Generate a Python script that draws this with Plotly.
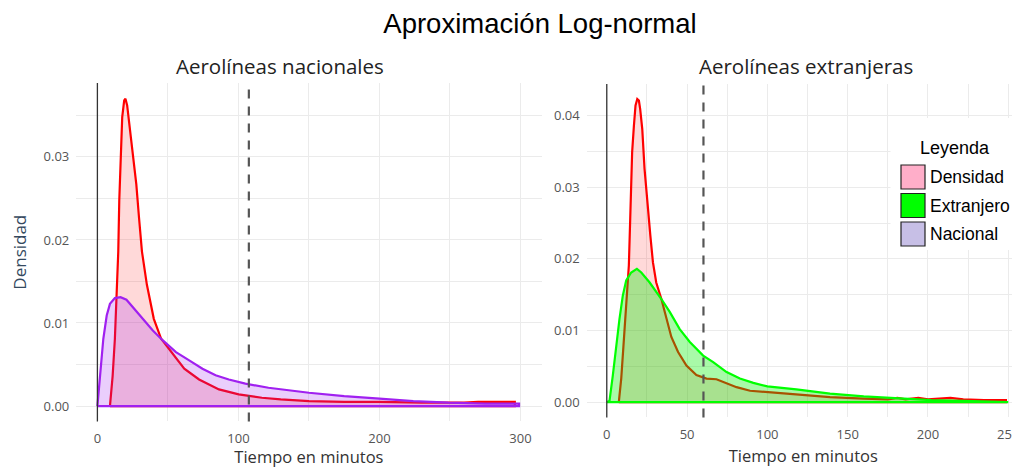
import plotly.graph_objects as go

# The page shows the figure with the browser's default 8px body margin,
# so the figure is sized to fill the rest of the 1020x468 window.
OFF = 8
W, H = 1020 - OFF, 468 - OFF

# ---------------- data ----------------
# Aerolíneas nacionales: empirical density (red) and log-normal fit (purple)
nac_dens_x = [8.9, 10.8, 12.4, 13.6, 14.8, 15.5, 16.6, 17.6, 19.0, 19.9, 21.1, 23.0, 24.6,
              27.6, 29.5, 31.6, 35.1, 40.0, 45.2, 52.2, 61.6, 72.1, 86.2, 100.2, 116.6,
              130, 150, 175, 200, 230, 260, 270, 296, 296]
nac_dens_y = [0.0, 0.0036, 0.0081, 0.0130, 0.0186, 0.0247, 0.0308, 0.0348, 0.0368, 0.0370,
              0.0362, 0.0336, 0.0308, 0.0267, 0.0227, 0.0186, 0.0146, 0.0105, 0.0081,
              0.0065, 0.0045, 0.0032, 0.0020, 0.0014, 0.0010, 0.0008, 0.0006, 0.0005,
              0.0005, 0.0004, 0.0004, 0.0005, 0.0005, 0.0]
nac_fit_x = [0, 1.9, 4.2, 6.6, 8.9, 12.4, 16.4, 20.6, 25.3, 32.3, 39.3, 46.4, 55.7, 65.1,
             74.5, 83.8, 93.2, 104.9, 121.3, 150, 175, 200, 224, 249, 275, 299, 299]
nac_fit_y = [0.0, 0.0036, 0.0081, 0.0109, 0.0123, 0.0130, 0.0131, 0.0128, 0.0119, 0.0105,
             0.0091, 0.0079, 0.0065, 0.0055, 0.0045, 0.0037, 0.0032, 0.0027, 0.0022,
             0.0016, 0.0012, 0.0009, 0.0006, 0.0004, 0.0003, 0.0003, 0.0]

# Aerolíneas extranjeras: empirical density (red) and log-normal fit (green)
ext_dens_x = [7.5, 9.0, 10.4, 12.1, 13.1, 13.75, 14.6, 15.2, 15.8, 16.9, 17.9, 19.0, 20.0,
              20.8, 22.1, 23.5, 25.2, 27.1, 28.75, 30.8, 34.0, 37.1, 40.2, 44.4, 49.6,
              55.8, 62.1, 68.3, 74.6, 80.8, 89.2, 99.6, 118, 139, 160, 175, 181, 186,
              194, 200, 214, 222, 235, 248.5, 248.5]
ext_dens_y = [0.0, 0.0033, 0.0079, 0.0140, 0.0172, 0.0191, 0.0256, 0.0302, 0.0349, 0.0386,
              0.0414, 0.0423, 0.0421, 0.0409, 0.0381, 0.0326, 0.0279, 0.0233, 0.0195,
              0.0167, 0.0144, 0.0116, 0.0091, 0.0070, 0.0051, 0.0038, 0.0033, 0.0032,
              0.0026, 0.0021, 0.0016, 0.0014, 0.0011, 0.0007, 0.0005, 0.0004, 0.0006,
              0.0004, 0.0006, 0.0004, 0.0006, 0.0004, 0.0003, 0.0003, 0.0]
ext_fit_x = [0, 1.7, 3.75, 5.8, 7.9, 10.0, 12.1, 15.2, 18.75, 21.5, 26.7, 34.0, 39.2, 45.4,
             51.7, 60.0, 66.25, 74.6, 82.9, 91.25, 100, 118, 139, 160, 181, 202, 222,
             250, 250]
ext_fit_y = [0.0, 0.0002, 0.0037, 0.0079, 0.0116, 0.0149, 0.0170, 0.0181, 0.0186, 0.0181,
             0.0167, 0.0144, 0.0126, 0.0102, 0.0084, 0.0065, 0.0056, 0.0042, 0.0033,
             0.0027, 0.0022, 0.0018, 0.0012, 0.0008, 0.0005, 0.0003, 0.0002, 0.0001, 0.0]

medias = [107.4, 60.2]   # dashed reference lines (minutes)
titulo = "Aproximación Log-normal"
subtitulos = ["Aerolíneas nacionales", "Aerolíneas extranjeras"]
x_titulo = "Tiempo en minutos"
y_titulo = "Densidad"
leyenda_titulo = "Leyenda"
leyenda_nombres = ["Densidad", "Extranjero", "Nacional"]
leyenda_colores = ["#FFAEC9", "#00FF00", "#C7BFE6"]

x_ticks_nac = [0, 100, 200, 300]
x_ticks_ext = [0, 50, 100, 150, 200, 250]
y_ticks_nac = [0.0, 0.01, 0.02, 0.03]
y_ticks_ext = [0.0, 0.01, 0.02, 0.03, 0.04]


# ---------------- helpers (window pixels -> paper fractions) ----------------
def fx(px):
    return (px - OFF) / W


def fy(py):
    return 1 - (py - OFF) / H


def closed(xs, ys):
    return xs + [xs[0]], ys + [ys[0]]


fig = go.Figure()

RED = "#FF0000"
PURPLE = "#A020F0"
GREEN = "#00FF00"

# left panel
x, y = closed(nac_dens_x, nac_dens_y)
fig.add_trace(go.Scatter(x=x, y=y, mode="lines", fill="toself", name="Densidad",
                         line=dict(color=RED, width=2.2), fillcolor="rgba(255,0,0,0.15)",
                         xaxis="x", yaxis="y", showlegend=False))
x, y = closed(nac_fit_x, nac_fit_y)
fig.add_trace(go.Scatter(x=x, y=y, mode="lines", fill="toself", name="Nacional",
                         line=dict(color=PURPLE, width=2.2), fillcolor="rgba(160,32,240,0.22)",
                         xaxis="x", yaxis="y", showlegend=False))
# right panel
x, y = closed(ext_dens_x, ext_dens_y)
fig.add_trace(go.Scatter(x=x, y=y, mode="lines", fill="toself", name="Densidad",
                         line=dict(color=RED, width=2.2), fillcolor="rgba(255,0,0,0.15)",
                         xaxis="x2", yaxis="y2", showlegend=False))
x, y = closed(ext_fit_x, ext_fit_y)
fig.add_trace(go.Scatter(x=x, y=y, mode="lines", fill="toself", name="Extranjero",
                         line=dict(color=GREEN, width=2.2), fillcolor="rgba(0,240,0,0.34)",
                         xaxis="x2", yaxis="y2", showlegend=False))

TICKFONT = dict(family="Open Sans", size=13, color="#555555")
TITLEFONT = dict(family="Open Sans", size=16.5, color="#333333")
GRID = "#EBEBEB"

common_x = dict(showline=False, zeroline=False, ticks="", gridcolor=GRID, gridwidth=1.1,
                tickfont=TICKFONT, ticklabelstandoff=8)
common_y = dict(showline=False, zeroline=False, ticks="", gridcolor=GRID, gridwidth=1.1,
                tickfont=TICKFONT, tickformat=".2f", ticklabelstandoff=6)

fig.update_layout(
    width=W, height=H,
    margin=dict(l=0, r=0, t=0, b=0),
    paper_bgcolor="white", plot_bgcolor="white",
    title=dict(text=titulo, x=fx(540), xanchor="center", y=fy(23), yanchor="middle",
               font=dict(family="Liberation Sans", size=27.5, color="black")),
    xaxis=dict(domain=[fx(76.25), fx(541.6)], range=[-15, 315], anchor="y",
               tickvals=x_ticks_nac, minor=dict(dtick=50, showgrid=True, gridcolor=GRID, gridwidth=0.7, ticks=""),
               title=dict(text=x_titulo, font=TITLEFONT, standoff=8), **common_x),
    yaxis=dict(domain=[fy(421.4), fy(83)], range=[-0.00185, 0.0389], anchor="x",
               tickvals=y_ticks_nac, minor=dict(dtick=0.005, showgrid=True, gridcolor=GRID, gridwidth=0.7, ticks=""),
               title=dict(text=y_titulo, font=dict(family="Open Sans", size=17, color="#34495E"), standoff=15),
               **common_y),
    xaxis2=dict(domain=[fx(586.7), 1.0], range=[-12.5, 257.3], anchor="y2",
                tickvals=x_ticks_ext, minor=dict(dtick=25, showgrid=True, gridcolor=GRID, gridwidth=0.7, ticks=""),
                title=dict(text=x_titulo, font=TITLEFONT, standoff=8), **common_x),
    yaxis2=dict(domain=[fy(417.4), fy(84)], range=[-0.00212, 0.0444], anchor="x2",
                tickvals=y_ticks_ext, minor=dict(dtick=0.005, showgrid=True, gridcolor=GRID, gridwidth=0.7, ticks=""),
                **common_y),
)

shapes = []
# black vertical line at x = 0 and dashed mean lines
for xr, yr, m in (("x", "y", medias[0]), ("x2", "y2", medias[1])):
    shapes.append(dict(type="line", xref=xr, yref=yr + " domain", x0=0, x1=0, y0=0, y1=1,
                       line=dict(color="#333333", width=1.3)))
    shapes.append(dict(type="line", xref=xr, yref=yr + " domain", x0=m, x1=m, y0=0, y1=1,
                       line=dict(color="#555555", width=2.2, dash="9px,8px")))

# legend background (covers the grid)
shapes.append(dict(type="rect", xref="paper", yref="paper", x0=fx(890.5), x1=1.0,
                   y0=fy(250), y1=fy(118), fillcolor="white", line=dict(width=0), layer="above"))

annotations = []
for txt, cx in zip(subtitulos, (279.5, 806)):
    annotations.append(dict(text=txt, x=fx(cx), y=fy(66), xref="paper", yref="paper",
                            xanchor="center", yanchor="middle", showarrow=False,
                            font=dict(family="Open Sans", size=20.5, color="#222222")))

annotations.append(dict(text=leyenda_titulo, x=fx(955), y=fy(148), xref="paper", yref="paper",
                        xanchor="center", yanchor="middle", showarrow=False,
                        font=dict(family="Liberation Sans", size=18, color="black")))
for i, (nm, col) in enumerate(zip(leyenda_nombres, leyenda_colores)):
    top = 165 + i * 28.5
    shapes.append(dict(type="rect", xref="paper", yref="paper", x0=fx(901), x1=fx(925),
                       y0=fy(top + 24), y1=fy(top), fillcolor=col,
                       line=dict(color="#222222", width=1.2), layer="above"))
    annotations.append(dict(text=nm, x=fx(928), y=fy(top + 12), xref="paper", yref="paper",
                            xanchor="left", yanchor="middle", showarrow=False,
                            font=dict(family="Liberation Sans", size=17.5, color="black")))

fig.update_layout(shapes=shapes, annotations=annotations)

fig.write_html("out.html")
